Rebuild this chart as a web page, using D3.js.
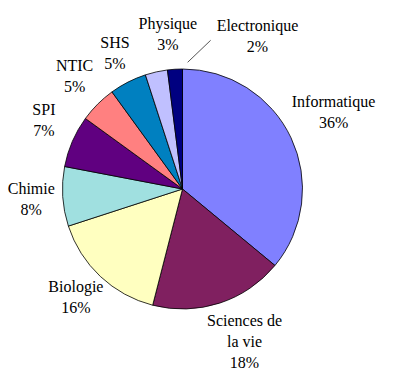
<!DOCTYPE html>
<html>
<head>
<meta charset="utf-8">
<script src="https://cdn.jsdelivr.net/npm/d3@7"></script>
<style>
    body { margin: 0; background: #fff; }
</style>
</head>
<body>
<div id="chart"></div>
<script>
// data
const categories = ["Informatique", "Sciences de la vie", "Biologie", "Chimie", "SPI", "NTIC", "SHS", "Physique", "Electronique"];
const values = [36, 18, 16, 8, 7, 5, 5, 3, 2];
const colors = ["#8080ff", "#802060", "#ffffc0", "#a0e0e0", "#600080", "#ff8080", "#0080c0", "#c0c0ff", "#000080"];
// how the names wrap in the labels
const nameLines = [["Informatique"], ["Sciences de", "la vie"], ["Biologie"], ["Chimie"], ["SPI"], ["NTIC"], ["SHS"], ["Physique"], ["Electronique"]];

const width = 400, height = 380;
const cx = 182.5, cy = 189, radius = 120;
const labelRadius = 134, lineHeight = 21;
const font = "'Liberation Serif', 'Times New Roman', serif";

const svg = d3.select("#chart").append("svg")
    .attr("width", width)
    .attr("height", height);

const g = svg.append("g").attr("transform", `translate(${cx},${cy})`);

const pie = d3.pie().sort(null).value(d => d);
const arcs = pie(values);
const arc = d3.arc().innerRadius(0).outerRadius(radius);

g.selectAll(".slice")
    .data(arcs)
    .enter()
    .append("path")
    .attr("class", "slice")
    .attr("d", arc)
    .attr("fill", (d, i) => colors[i])
    .attr("stroke", "#000")
    .attr("stroke-width", 0.8)
    .attr("stroke-linejoin", "round");

// labels: box sits just outside the pie along the slice middle
const fmt = d => Math.round(d) + "%";
const total = d3.sum(values);

// small hand adjustments so labels sit where the original put them
// (Electronique was dragged off to the right, with a leader line)
const nudge = [
    {dx: -8, dy: -12}, {dx: 9, dy: -3}, {dx: 4, dy: -4}, {dx: 6, dy: 0}, {dx: -5, dy: -8},
    {dx: 0, dy: -5}, {dx: 0, dy: 0}, {dx: 21, dy: -6}, {dx: 86, dy: 0, leader: true}
];

arcs.forEach(function (d, i) {
    let lab = g.append("g").attr("class", "label");
    let lines = nameLines[i].concat([fmt(values[i] / total * 100)]);
    let t = lab.append("text")
        .attr("text-anchor", "middle")
        .style("font-family", font)
        .style("font-size", "16px")
        .attr("fill", "#000");
    lines.forEach(function (l, k) {
        t.append("tspan").attr("x", 0).attr("dy", k === 0 ? 0 : lineHeight).text(l);
    });
    let bb = t.node().getBBox();
    let a = (d.startAngle + d.endAngle) / 2;
    let s = Math.sin(a), c = -Math.cos(a);
    let px = s * labelRadius + bb.width / 2 * s + nudge[i].dx;
    let py = c * labelRadius + bb.height / 2 * c + nudge[i].dy;
    let tx = px - (bb.x + bb.width / 2);
    let ty = py - (bb.y + bb.height / 2);
    lab.attr("transform", `translate(${tx},${ty})`);

    if (nudge[i].leader) {
        // leader line back towards the slice
        let left = px - bb.width / 2 - 6;
        g.append("line")
            .attr("x1", left)
            .attr("y1", py + 4)
            .attr("x2", left - 23)
            .attr("y2", py + 26)
            .attr("stroke", "#555")
            .attr("stroke-width", 1);
    }
});
</script>
</body>
</html>
